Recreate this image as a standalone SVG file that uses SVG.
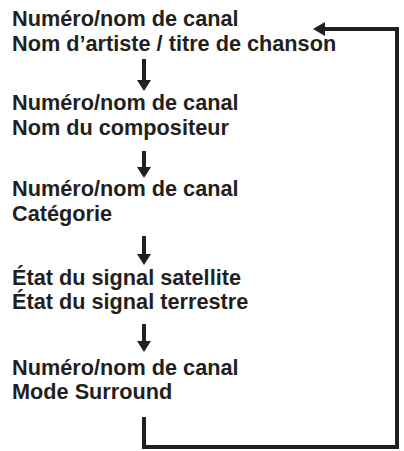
<svg xmlns="http://www.w3.org/2000/svg" width="404" height="451" viewBox="0 0 404 451">
<style>
text{font-family:"Liberation Sans",Arial,sans-serif;font-weight:bold;font-size:21.7px;fill:#231f20}
.c{stroke:#231f20;stroke-width:4;fill:none}
.h{fill:#231f20}
</style>
<rect width="404" height="451" fill="#fff"/>
<g id="n1"><text x="12" y="26">Numéro/nom de canal</text><text x="12" y="51">Nom d’artiste / titre de chanson</text></g>
<g id="n2"><text x="12" y="110">Numéro/nom de canal</text><text x="12" y="135">Nom du compositeur</text></g>
<g id="n3"><text x="12" y="196">Numéro/nom de canal</text><text x="12" y="221">Catégorie</text></g>
<g id="n4"><text x="12" y="285">État du signal satellite</text><text x="12" y="309">État du signal terrestre</text></g>
<g id="n5"><text x="12" y="375">Numéro/nom de canal</text><text x="12" y="399">Mode Surround</text></g>
<g id="connectors">
<line class="c" x1="144" y1="59" x2="144" y2="81"/><polygon class="h" points="137,80 151,80 144,91"/>
<line class="c" x1="144" y1="151" x2="144" y2="168"/><polygon class="h" points="137,167 151,167 144,178"/>
<line class="c" x1="144" y1="236" x2="144" y2="255"/><polygon class="h" points="137,254 151,254 144,265"/>
<line class="c" x1="144" y1="324" x2="144" y2="342"/><polygon class="h" points="137,341 151,341 144,352"/>
<polyline class="c" points="144,417 144,447 397,447 397,29 323,29"/>
<polygon class="h" points="325,22 325,36 313,29"/>
</g>
</svg>
